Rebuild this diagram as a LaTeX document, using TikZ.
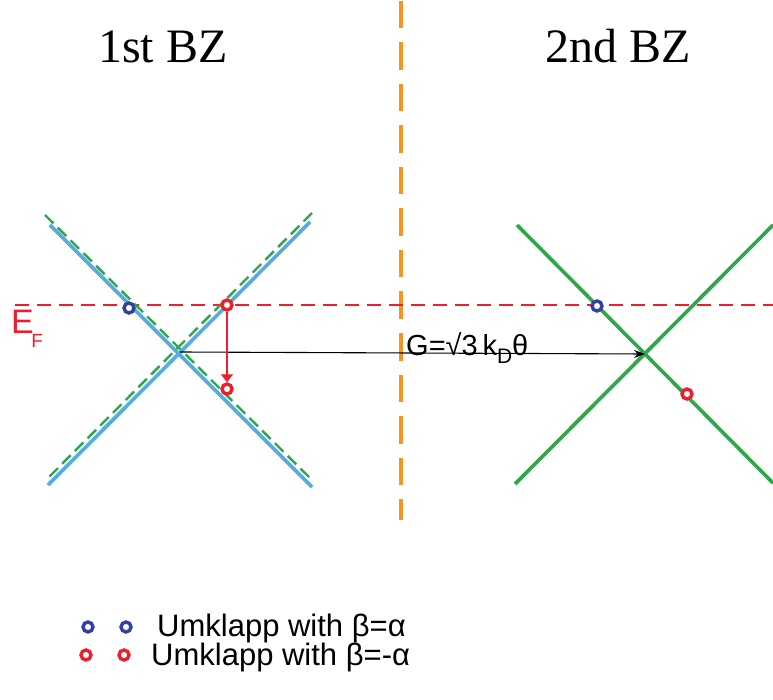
\documentclass[tikz,border=0pt]{standalone}
\usepackage{fontspec}
\setmainfont{Liberation Sans}
\newfontfamily\serifbz{Liberation Serif}
\usetikzlibrary{arrows.meta}
\definecolor{bandblue}{RGB}{85,172,226}
\definecolor{bandgreen}{RGB}{44,168,72}
\definecolor{fermired}{RGB}{236,32,44}
\definecolor{zoneorange}{RGB}{247,148,30}
\definecolor{dotblue}{RGB}{52,64,160}
\tikzset{
  band/.style={line width=3.6pt},
  folded/.style={bandgreen,line width=2.4pt,dash pattern=on 12pt off 6pt},
  fermi/.style={fermired,line width=1.3pt,dash pattern=on 14pt off 8pt},
  dot/.style={circle,draw,fill=white,line width=3.4pt,minimum size=10pt,inner sep=0pt},
  title/.style={font=\serifbz\fontsize{48}{50}\selectfont,anchor=base},
  legend/.style={font=\fontsize{31}{33}\selectfont,anchor=base west,inner sep=0pt}
}
\begin{document}
\begin{tikzpicture}[x=1pt,y=-1pt]
\useasboundingbox (0,0) rectangle (773,700);

% zone boundary
\draw[zoneorange,line width=4pt,dash pattern=on 27.5pt off 14pt] (400.5,1) -- (400.5,520);

% titles
\node[title] (bz1) at (163,63) {1st BZ};
\node[title] (bz2) at (618,63) {2nd BZ};

% Fermi level
\coordinate (efL) at (15,305);
\coordinate (efR) at (773,305);
\draw[fermi] (efL) -- (efR);
\node[fermired,anchor=base west,inner sep=0pt] (ef) at (11,334)
  {\fontsize{34}{36}\selectfont E\kern-2.5pt\raisebox{-0.4em}{\fontsize{19}{21}\selectfont F}};

% folded bands in the first zone
\draw[folded] (45,215) -- (312,480);
\draw[folded] (312,213) -- (48,478);

% bands in the first zone
\coordinate (k1) at (180,352);
\draw[band,bandblue] (50,225) -- (312,487);
\draw[band,bandblue] (310,222) -- (48,485);

% bands in the second zone
\coordinate (k2) at (645,354);
\draw[band,bandgreen] (517,225) -- (773,483);
\draw[band,bandgreen] (515,484) -- (773,225);

% reciprocal lattice vector
\draw[line width=1.1pt,-{Stealth[length=11pt,width=8pt]}] (k1) -- (k2);
\node[anchor=base west,inner sep=0pt] (G) at (406,355)
  {\fontsize{29}{31}\selectfont G=√3\,k\raisebox{-0.3em}{\fontsize{21}{23}\selectfont D}θ};

% scattering states
\node[dot,draw=dotblue] (b1) at (129,308) {};
\node[dot,draw=fermired] (r1) at (227,305) {};
\node[dot,draw=fermired] (r2) at (227,389) {};
\node[dot,draw=dotblue] (b2) at (597,306) {};
\node[dot,draw=fermired] (r3) at (687,394) {};
\draw[fermired,line width=1.3pt,-{Triangle[length=8pt,width=12pt]}] (r1) -- (r2.north);

% legend
\node[dot,draw=dotblue] (lb1) at (88,627) {};
\node[dot,draw=dotblue] (lb2) at (126,627) {};
\node[legend] (lbt) at (157,636) {Umklapp with β=α};
\node[dot,draw=fermired] (lr1) at (86,655) {};
\node[dot,draw=fermired] (lr2) at (124,655) {};
\node[legend] (lrt) at (151,665) {Umklapp with β=-α};
\end{tikzpicture}
\end{document}
